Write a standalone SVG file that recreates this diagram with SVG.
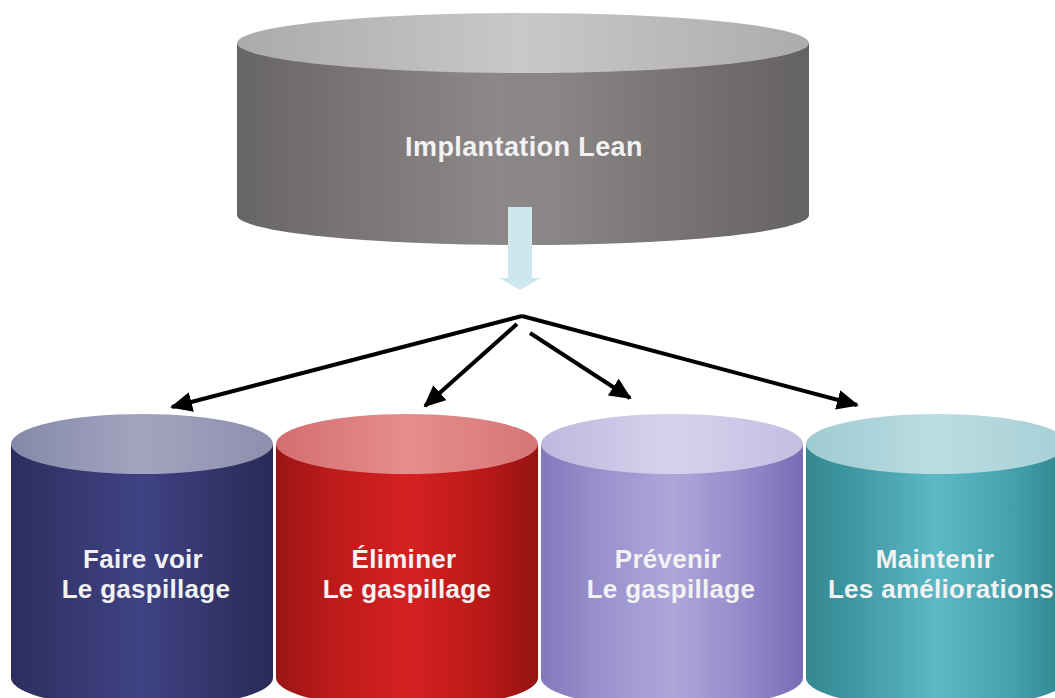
<svg xmlns="http://www.w3.org/2000/svg" width="1055" height="698" viewBox="0 0 1055 698">
<defs>
<linearGradient id="gBody" x1="0" x2="1" y1="0" y2="0">
<stop offset="0" stop-color="#676464"/><stop offset="0.15" stop-color="#747170"/><stop offset="0.45" stop-color="#8c8887"/><stop offset="0.55" stop-color="#8a8685"/><stop offset="0.85" stop-color="#716d6d"/><stop offset="1" stop-color="#656262"/>
</linearGradient>
<linearGradient id="gTop" x1="0" x2="1" y1="0" y2="0">
<stop offset="0" stop-color="#acaaaa"/><stop offset="0.5" stop-color="#c9c7c7"/><stop offset="1" stop-color="#aeabab"/>
</linearGradient>
<linearGradient id="nBody" x1="0" x2="1" y1="0" y2="0">
<stop offset="0" stop-color="#2c2d5e"/><stop offset="0.2" stop-color="#35376e"/><stop offset="0.5" stop-color="#3f4283"/><stop offset="0.8" stop-color="#323468"/><stop offset="1" stop-color="#292a57"/>
</linearGradient>
<linearGradient id="nTop" x1="0" x2="1" y1="0" y2="0">
<stop offset="0" stop-color="#8688aa"/><stop offset="0.5" stop-color="#a2a4bf"/><stop offset="1" stop-color="#8d8fae"/>
</linearGradient>
<linearGradient id="rBody" x1="0" x2="1" y1="0" y2="0">
<stop offset="0" stop-color="#9a1515"/><stop offset="0.2" stop-color="#bb1a1a"/><stop offset="0.5" stop-color="#d62121"/><stop offset="0.8" stop-color="#b91818"/><stop offset="1" stop-color="#951313"/>
</linearGradient>
<linearGradient id="rTop" x1="0" x2="1" y1="0" y2="0">
<stop offset="0" stop-color="#d46e6e"/><stop offset="0.5" stop-color="#e68d8d"/><stop offset="1" stop-color="#d67676"/>
</linearGradient>
<linearGradient id="pBody" x1="0" x2="1" y1="0" y2="0">
<stop offset="0" stop-color="#8378bb"/><stop offset="0.2" stop-color="#978ecb"/><stop offset="0.5" stop-color="#aea7da"/><stop offset="0.8" stop-color="#9187c8"/><stop offset="1" stop-color="#786cb3"/>
</linearGradient>
<linearGradient id="pTop" x1="0" x2="1" y1="0" y2="0">
<stop offset="0" stop-color="#beb8df"/><stop offset="0.5" stop-color="#d6d2ec"/><stop offset="1" stop-color="#c4bee2"/>
</linearGradient>
<linearGradient id="tBody" x1="0" x2="1" y1="0" y2="0">
<stop offset="0" stop-color="#348891"/><stop offset="0.2" stop-color="#4299a4"/><stop offset="0.5" stop-color="#5cb9c6"/><stop offset="0.8" stop-color="#43a0ab"/><stop offset="1" stop-color="#2f838c"/>
</linearGradient>
<linearGradient id="tTop" x1="0" x2="1" y1="0" y2="0">
<stop offset="0" stop-color="#9ecbd1"/><stop offset="0.5" stop-color="#badde2"/><stop offset="1" stop-color="#a6cfd5"/>
</linearGradient>
<marker id="ah" markerUnits="userSpaceOnUse" markerWidth="22" markerHeight="20" refX="20" refY="10" orient="auto">
<path d="M0,0 L22,10 L0,20 Z" fill="#000"/>
</marker>
<style>
.lbl{font-family:"Liberation Sans",Arial,sans-serif;font-weight:bold;fill:#f2f2f2;text-anchor:middle;}
.big{font-size:26px;letter-spacing:0.3px;}
.top{font-size:27px;letter-spacing:0.4px;}
.conn line{stroke:#000;stroke-width:4;marker-end:url(#ah);}
</style>
</defs>
<rect width="1055" height="698" fill="#fff"/>

<g id="implantation">
<path d="M237,43 L237,215 A286,30 0 0 0 809,215 L809,43 Z" fill="url(#gBody)"/>
<ellipse cx="523" cy="43" rx="286" ry="30" fill="url(#gTop)"/>
<text class="lbl top" x="524" y="156">Implantation Lean</text>
<path d="M508,207 L532,207 L532,278 L541,278 L520,290 L499,278 L508,278 Z" fill="#cce7ed"/>
</g>

<g id="connectors" class="conn">
<line x1="522" y1="316" x2="172" y2="407"/>
<line x1="517" y1="324" x2="425" y2="406"/>
<line x1="530" y1="333" x2="630" y2="398"/>
<line x1="522" y1="316" x2="857" y2="405"/>
</g>

<g id="faire-voir">
<path d="M11,444 L11,678 A131,30 0 0 0 273,678 L273,444 Z" fill="url(#nBody)"/>
<ellipse cx="142" cy="444" rx="131" ry="30" fill="url(#nTop)"/>
<text class="lbl big" x="143" y="568">Faire voir</text>
<text class="lbl big" x="146" y="598">Le gaspillage</text>
</g>

<g id="eliminer">
<path d="M276,444 L276,678 A131,30 0 0 0 538,678 L538,444 Z" fill="url(#rBody)"/>
<ellipse cx="407" cy="444" rx="131" ry="30" fill="url(#rTop)"/>
<text class="lbl big" x="404" y="568">Éliminer</text>
<text class="lbl big" x="407" y="598">Le gaspillage</text>
</g>

<g id="prevenir">
<path d="M541,444 L541,678 A131,30 0 0 0 803,678 L803,444 Z" fill="url(#pBody)"/>
<ellipse cx="672" cy="444" rx="131" ry="30" fill="url(#pTop)"/>
<text class="lbl big" x="668" y="568">Prévenir</text>
<text class="lbl big" x="671" y="598">Le gaspillage</text>
</g>

<g id="maintenir">
<path d="M806,444 L806,678 A131,30 0 0 0 1068,678 L1068,444 Z" fill="url(#tBody)"/>
<ellipse cx="937" cy="444" rx="131" ry="30" fill="url(#tTop)"/>
<text class="lbl big" x="935" y="568">Maintenir</text>
<text class="lbl big" x="941" y="598">Les améliorations</text>
</g>
</svg>
